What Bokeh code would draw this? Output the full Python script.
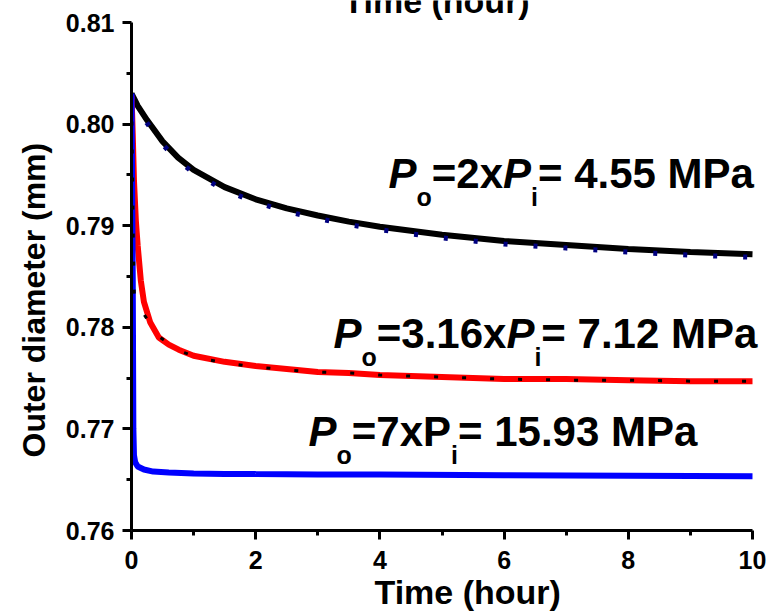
import math

from bokeh.plotting import figure
from bokeh.models import Range1d, FixedTicker, NumeralTickFormatter, Label, Title
from bokeh.embed import file_html
from bokeh.resources import INLINE

# ---- data: outer diameter (mm) vs time (hour) ----
# Po = 2 x Pi = 4.55 MPa (solid black) and its fitted curve (navy dots)
t_low = [0, 0.05, 0.1, 0.25, 0.5, 0.75, 1.0, 1.5, 2.0, 2.5, 3.0, 3.5, 4.0, 5.0, 6.0, 7.0, 8.0, 9.0, 10.0]
d_low = [0.8030, 0.8024, 0.8018, 0.8004, 0.7983, 0.7967, 0.7955, 0.7938, 0.7926, 0.7917, 0.7910,
         0.7904, 0.7899, 0.7891, 0.7885, 0.7881, 0.7877, 0.7874, 0.7872]
d_low_fit = [0.8027, 0.8021, 0.8015, 0.8001, 0.7980, 0.7964, 0.7952, 0.7935, 0.7923,
             0.7914, 0.7907, 0.7901, 0.7896, 0.7888, 0.7882, 0.7878, 0.7874, 0.7871,
             0.7869]

# Po = 3.16 x Pi = 7.12 MPa (solid red) and its fitted curve (black dots)
t_mid = [0, 0.01, 0.02, 0.04, 0.07, 0.1, 0.15, 0.2, 0.3, 0.44, 0.6, 0.76, 1.0, 1.5, 2.0, 2.5, 3.0,
         3.5, 4.0, 5.0, 6.0, 7.0, 8.0, 9.0, 10.0]
d_mid = [0.8028, 0.8010, 0.7990, 0.7944, 0.7905, 0.7880, 0.7846, 0.7825, 0.7805, 0.7790, 0.7783,
         0.7778, 0.7772, 0.7766, 0.7762, 0.7759, 0.7756, 0.7755, 0.7753, 0.7751, 0.7749, 0.7749,
         0.7748, 0.7747, 0.7747]
t_mid_fit = [0, 0.01, 0.02, 0.03, 0.045, 0.1, 0.22, 0.44, 0.76, 1.08, 1.5, 2.0, 2.5, 3.0, 3.5, 4.0,
             5.0, 6.0, 7.0, 8.0, 9.0, 10.0]
d_mid_fit = [0.8030, 0.7985, 0.7935, 0.7880, 0.7832, 0.7822, 0.7811, 0.7791, 0.7777, 0.7770, 0.7765,
             0.7761, 0.7758, 0.7756, 0.7755, 0.7753, 0.7751, 0.7749, 0.7748, 0.7748, 0.7747, 0.7747]

# Po = 7 x Pi = 15.93 MPa (solid blue)
t_high = [0, 0.02, 0.03, 0.04, 0.06, 0.1, 0.2, 0.35, 0.6, 1.0, 1.5, 2.0, 3.0, 4.0, 6.0, 8.0, 10.0]
d_high = [0.8030, 0.7850, 0.7700, 0.7674, 0.7667, 0.7663, 0.7660, 0.7658, 0.76572, 0.7656, 0.76557,
          0.76555, 0.76552, 0.7655, 0.76545, 0.7654, 0.76535]

x_ticks = [0, 2, 4, 6, 8, 10]
x_minor = [1, 3, 5, 7, 9]
y_ticks = [0.76, 0.77, 0.78, 0.79, 0.80, 0.81]
y_minor = [0.765, 0.775, 0.785, 0.795, 0.805]

FONT = "Liberation Sans"

# ---- layout (pixels) ----
W, H = 772, 615
LEFT, BOTTOM = 131, 85          # frame touches the top and right canvas edges
AX_LEFT_PX, AX_RIGHT_PX = 131, 752   # where x = 0 and x = 10 fall
AX_TOP_PX, AX_BOT_PX = 22, 530       # where y = 0.81 and y = 0.76 fall
XA, XB = x_ticks[0], x_ticks[-1]
YA, YB = y_ticks[0], y_ticks[-1]

x_per_px = (XB - XA) / (AX_RIGHT_PX - AX_LEFT_PX)
y_per_px = (YB - YA) / (AX_BOT_PX - AX_TOP_PX)
x_end = XA + (W - AX_LEFT_PX) * x_per_px
y_end = YB + AX_TOP_PX * y_per_px

p = figure(width=W, height=H, output_backend="svg", toolbar_location=None,
           x_range=Range1d(XA, x_end), y_range=Range1d(YA, y_end),
           min_border_left=LEFT, min_border_right=0,
           min_border_top=0, min_border_bottom=BOTTOM)
p.outline_line_color = None
p.xgrid.visible = False
p.ygrid.visible = False
p.background_fill_color = "white"
p.border_fill_color = "white"

for ax, ticks, minor in ((p.xaxis, x_ticks, x_minor), (p.yaxis, y_ticks, y_minor)):
    ax.ticker = FixedTicker(ticks=ticks, minor_ticks=minor)
    ax.bounds = (ticks[0], ticks[-1])
    ax.axis_line_width = 3
    ax.axis_line_color = "black"
    ax.major_tick_line_width = 3
    ax.minor_tick_line_width = 3
    ax.major_tick_out = 9
    ax.major_tick_in = 0
    ax.minor_tick_out = 5
    ax.minor_tick_in = 0
    ax.major_label_text_font = FONT
    ax.major_label_text_font_style = "bold"
    ax.major_label_text_font_size = "25px"
    ax.major_label_text_color = "black"
    ax.major_label_standoff = 8
p.xaxis.major_label_standoff = 11
p.xaxis.formatter = NumeralTickFormatter(format="0")
p.yaxis.formatter = NumeralTickFormatter(format="0.00")

# ---- curves ----
p.line(t_low, d_low, line_color="black", line_width=6)
p.line(t_low, d_low_fit, line_color="#000080", line_width=5, line_dash="4 26")
p.line(t_mid, d_mid, line_color="#ff0000", line_width=6)
p.line(t_high, d_high, line_color="#0000ff", line_width=6)
p.line(t_mid_fit, d_mid_fit, line_color="black", line_width=3, line_dash="4 24")


# ---- text helpers (pixel positions converted to data space) ----
def dx(px):
    return XA + (px - AX_LEFT_PX) * x_per_px


def dy(py):
    return y_end - py * y_per_px


BASE_SHIFT = 0.36   # alphabetic anchor correction, in em


def add_text(text, px, py, size, style="bold", align="left"):
    p.add_layout(Label(x=dx(px), y=dy(py - BASE_SHIFT * size), text=text, text_font=FONT,
                       text_font_size=f"{size}px", text_font_style=style,
                       text_color="black", text_align=align,
                       text_baseline="alphabetic"))


# advance widths (em/1000) of the bold sans face used for the annotations
ADV = {"P": 667, "o": 611, "=": 584, "x": 556, "i": 278, " ": 278, ".": 278, "M": 833,
       "a": 556}


def advance(s, size):
    return sum(ADV.get(c, 556) for c in s) * size / 1000.0


BIG, SUB, SUB_DROP = 42, 25, 17


def pressure_label(parts, px, py):
    x = px
    for text, kind in parts:
        if kind == "sub":
            add_text(text, x, py + SUB_DROP, SUB, "bold")
            x += advance(text, SUB)
        else:
            style = "bold italic" if kind == "ital" else "bold"
            add_text(text, x, py, BIG, style)
            x += advance(text, BIG)


pressure_label([("P", "ital"), ("o", "sub"), ("=2x", "norm"), ("P", "ital"), ("i", "sub"),
                ("= 4.55 MPa", "norm")], 388, 188)
pressure_label([("P", "ital"), ("o", "sub"), ("=3.16x", "norm"), ("P", "ital"), ("i", "sub"),
                ("= 7.12 MPa", "norm")], 333, 348)
pressure_label([("P", "ital"), ("o", "sub"), ("=7xP", "norm"), ("i", "sub"),
                ("= 15.93 MPa", "norm")], 308, 446)

# x-axis title repeated at the top edge of the panel
add_text("Time (hour)", 436, 13, 34, align="center")

# axis titles placed in the side panels
TITLE_STYLE = dict(text_font=FONT, text_font_style="bold", text_color="black")
p.add_layout(Title(text="Time (hour)", align="left", offset=243, vertical_align="top",
                   standoff=2, text_font_size="34px", **TITLE_STYLE), "below")
p.add_layout(Title(text="Outer diameter (mm)", align="left", offset=73,
                   vertical_align="bottom", standoff=22, text_font_size="32px",
                   **TITLE_STYLE), "left")

open("out.html", "w").write(file_html(p, INLINE))
